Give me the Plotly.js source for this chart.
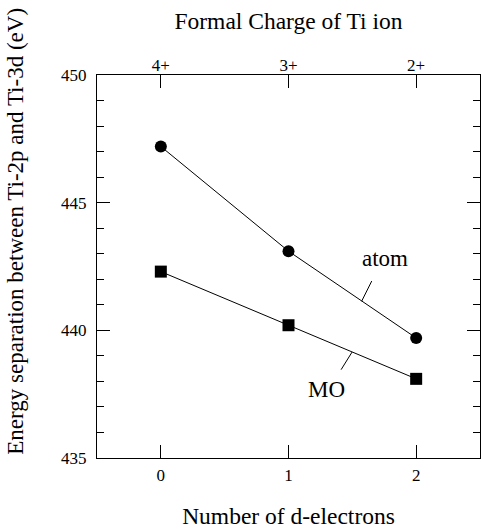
<!DOCTYPE html>
<html>
<head>
<meta charset="utf-8">
<script src="https://cdn.plot.ly/plotly-3.0.1.min.js"></script>
<style>html,body{margin:0;padding:0;background:#fff;}#chart{width:482px;height:529px;}</style>
</head>
<body>
<div id="chart"></div>
<script>
const dElectrons = [0, 1, 2];
const chargeLabels = ['4+', '3+', '2+'];
const atomValues = [447.2, 443.1, 439.7];
const moValues = [442.3, 440.2, 438.1];
const minorTicks = [436, 437, 438, 439, 441, 442, 443, 444, 446, 447, 448, 449];

const F = 'Liberation Serif';

const traces = [
  {x: dElectrons, y: atomValues, mode: 'lines+markers', type: 'scatter',
   line: {color: '#000', width: 1}, marker: {symbol: 'circle', size: 12, color: '#000'}, showlegend: false, hoverinfo: 'skip'},
  {x: dElectrons, y: moValues, mode: 'lines+markers', type: 'scatter',
   line: {color: '#000', width: 1}, marker: {symbol: 'square', size: 12, color: '#000'}, showlegend: false, hoverinfo: 'skip'},
  {x: dElectrons, y: atomValues, xaxis: 'x2', mode: 'markers', marker: {opacity: 0}, showlegend: false, hoverinfo: 'skip'},
  {x: dElectrons, y: atomValues, yaxis: 'y2', mode: 'markers', marker: {opacity: 0}, showlegend: false, hoverinfo: 'skip'}
];

const layout = {
  width: 482, height: 529,
  margin: {l: 97, r: 2, t: 75, b: 71},
  paper_bgcolor: '#fff', plot_bgcolor: '#fff',
  font: {family: F, color: '#000', size: 17},
  xaxis: {
    range: [-0.5, 2.5], tickvals: dElectrons, ticktext: dElectrons.map(String),
    ticks: 'inside', ticklen: 13, tickwidth: 1, tickcolor: '#000',
    showline: true, linecolor: '#000', linewidth: 1, mirror: true,
    showgrid: false, zeroline: false, ticklabelstandoff: 2,
    tickfont: {family: F, size: 17},
    title: {text: 'Number of d-electrons', font: {family: F, size: 23.5}, standoff: 23}
  },
  xaxis2: {
    range: [-0.5, 2.5], overlaying: 'x', side: 'top', anchor: 'y',
    tickvals: dElectrons, ticktext: chargeLabels,
    ticks: 'inside', ticklen: 13, tickwidth: 1, tickcolor: '#000',
    showline: false, showgrid: false, zeroline: false,
    tickfont: {family: F, size: 17},
    title: {text: 'Formal Charge of Ti ion', font: {family: F, size: 23.5}, standoff: 19}
  },
  yaxis: {
    range: [435, 450], tickmode: 'linear', tick0: 435, dtick: 5,
    ticks: 'inside', ticklen: 13, tickwidth: 1, tickcolor: '#000',
    showline: true, linecolor: '#000', linewidth: 1, mirror: 'ticks',
    showgrid: false, zeroline: false, ticklabelstandoff: 6,
    tickfont: {family: F, size: 17}
  },
  yaxis2: {
    range: [435, 450], overlaying: 'y', side: 'left', anchor: 'x',
    tickvals: minorTicks, showticklabels: false,
    ticks: 'inside', ticklen: 7, tickwidth: 1, tickcolor: '#000',
    showline: false, mirror: 'ticks', showgrid: false, zeroline: false
  },
  shapes: [
    {type: 'line', xref: 'x', yref: 'y', x0: 1.573, y0: 441.14, x1: 1.652, y1: 441.93, line: {color: '#000', width: 1}},
    {type: 'line', xref: 'x', yref: 'y', x0: 1.498, y0: 439.15, x1: 1.412, y1: 438.46, line: {color: '#000', width: 1}}
  ],
  annotations: [
    {x: -0.212, y: 0.593, xref: 'paper', yref: 'paper', xanchor: 'center', yanchor: 'middle', textangle: -90,
     text: 'Energy separation between Ti-2p and Ti-3d (eV)', showarrow: false, font: {family: F, size: 23}},
    {x: 1.752, y: 442.82, xref: 'x', yref: 'y', text: 'atom', showarrow: false, font: {family: F, size: 23}},
    {x: 1.297, y: 437.69, xref: 'x', yref: 'y', text: 'MO', showarrow: false, font: {family: F, size: 23}}
  ]
};

Plotly.newPlot('chart', traces, layout, {displayModeBar: false, staticPlot: true});
</script>
</body>
</html>
